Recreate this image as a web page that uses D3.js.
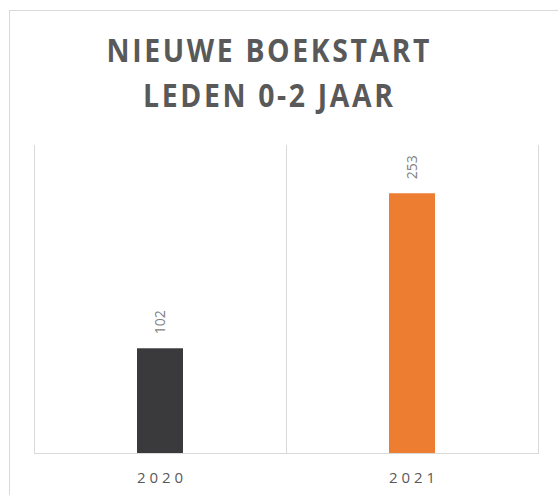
<!DOCTYPE html>
<html><head><meta charset="utf-8">
<script src="https://cdn.jsdelivr.net/npm/d3@7"></script>
<style>html,body{margin:0;padding:0;background:#fff;}svg{display:block;}</style>
</head><body>
<svg id="c" width="558" height="495"></svg>
<script>
const categories = ["2020", "2021"];
const values = [102, 253];
const colors = ["#3a393b", "#ed7d31"];
const titleLines = ["NIEUWE BOEKSTART", "LEDEN 0-2 JAAR"];
const yDomain = [0, 300];

const svg = d3.select("#c");
const plot = {left: 34, right: 538, top: 145, bottom: 453};

// outer chart border
svg.append("rect").attr("x", 9.5).attr("y", 10.5).attr("width", 600).attr("height", 600)
  .attr("fill", "#fff").attr("stroke", "#d9d9d9").attr("stroke-width", 1);

// title: tall glyphs, letter-spaced, horizontally scaled to reference width
const titleFont = "'Open Sans', 'DejaVu Sans', sans-serif";
const tl = [{t: titleLines[0], y: 62, len: 323}, {t: titleLines[1], y: 107, len: 250}];
tl.forEach(d => {
  const g = svg.append("g");
  const t = g.append("text").attr("x", 0).attr("y", 0).attr("text-anchor", "middle")
    .attr("font-family", titleFont).attr("font-weight", "bold").attr("font-size", 32)
    .attr("letter-spacing", 3).attr("fill", "#595959").text(d.t);
  const bb = t.node().getBBox();
  const sx = d.len / (bb.width - 3);
  const cx = bb.x + (bb.width - 3) / 2;
  t.attr("x", -cx);
  g.attr("transform", `translate(268,${d.y}) scale(${sx},1)`);
});

const x = d3.scaleBand().domain(categories).range([plot.left, plot.right]).padding(0);
const y = d3.scaleLinear().domain(yDomain).range([plot.bottom, plot.top]);

// vertical gridlines at category boundaries
const bounds = categories.map(c => x(c)).concat([x(categories[categories.length-1]) + x.bandwidth()]);
svg.selectAll("line.grid").data(bounds).join("line").attr("class", "grid")
  .attr("x1", d => Math.round(d) + 0.5).attr("x2", d => Math.round(d) + 0.5)
  .attr("y1", y(yDomain[1])).attr("y2", y(0))
  .attr("stroke", "#d9d9d9").attr("stroke-width", 1);

// bars
const bw = 46;
const data = categories.map((c, i) => ({c, v: values[i], col: colors[i]}));
svg.selectAll("rect.bar").data(data).join("rect").attr("class", "bar")
  .attr("x", d => x(d.c) + x.bandwidth()/2 - bw/2)
  .attr("width", bw)
  .attr("y", d => y(d.v))
  .attr("height", d => y(0) - y(d.v))
  .attr("fill", d => d.col);

// baseline
svg.append("line").attr("x1", plot.left).attr("x2", plot.right + 1)
  .attr("y1", y(0) + 0.5).attr("y2", y(0) + 0.5)
  .attr("stroke", "#d9d9d9").attr("stroke-width", 1);

// value labels (rotated)
svg.selectAll("text.val").data(data).join("text").attr("class", "val")
  .attr("transform", d => `translate(${x(d.c) + x.bandwidth()/2 + 5},${y(d.v) - 14}) rotate(-90)`)
  .attr("font-family", "'Open Sans', sans-serif").attr("font-size", 14)
  .attr("fill", "#7f7f7f").attr("text-anchor", "start")
  .text(d => d.v);

// x axis labels
svg.selectAll("text.xl").data(categories).join("text").attr("class", "xl")
  .attr("x", d => x(d) + x.bandwidth()/2).attr("y", 483)
  .attr("text-anchor", "middle")
  .attr("font-family", "'Open Sans', sans-serif").attr("font-size", 15)
  .attr("fill", "#595959")
  .attr("textLength", 46).attr("lengthAdjust", "spacing")
  .text(d => d);
</script>
</body></html>
